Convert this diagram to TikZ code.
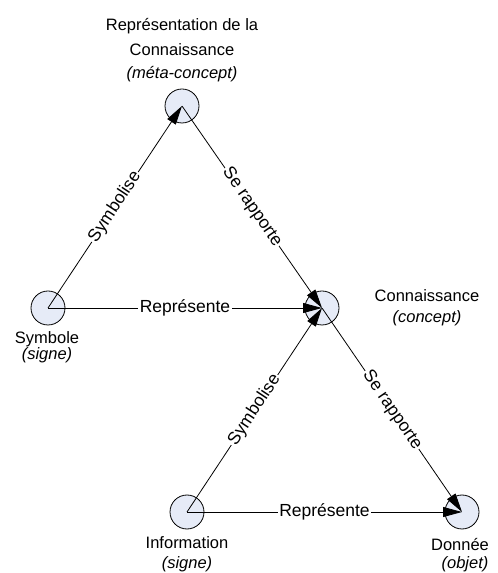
\documentclass[tikz,border=0pt]{standalone}
\usepackage{fontspec}
\setmainfont{Liberation Sans}
\usetikzlibrary{arrows.meta}
\definecolor{nodefill}{RGB}{230,235,247}
\begin{document}
\begin{tikzpicture}[x=1pt,y=1pt,
  every node/.style={font=\fontsize{16.5}{19.8}\selectfont},
  concept/.style={circle,draw=black,line width=0.8pt,fill=nodefill,minimum size=34pt,inner sep=0pt},
  caption/.style={anchor=base,inner sep=0pt},
  rel/.style={line width=0.8pt,-{Triangle[length=19pt,width=10pt]}},
  lbl/.style={fill=white,inner sep=1.5pt,font=\fontsize{17.5}{21}\selectfont}]
\useasboundingbox (0,0) rectangle (498,573);

% concept circles
\node[concept] (meta) at (182,467) {};
\node[concept] (conn) at (322,265) {};
\node[concept] (sym)  at (48,265)  {};
\node[concept] (info) at (187,61)  {};
\node[concept] (don)  at (462,61)  {};

% relations
\draw[rel] (sym.center)  -- node[lbl,sloped]{Symbolise}   (meta.center);
\draw[rel] (meta.center) -- node[lbl,sloped]{Se rapporte} (conn.center);
\draw[rel] (sym.center)  -- node[lbl]{Représente}         (conn.center);
\draw[rel] (info.center) -- node[lbl,sloped]{Symbolise}   (conn.center);
\draw[rel] (conn.center) -- node[lbl,sloped]{Se rapporte} (don.center);
\draw[rel] (info.center) -- node[lbl]{Représente}         (don.center);

% captions
\node[caption] (metaA) at (182,542) {Représentation de la};
\node[caption] (metaB) at (182,517) {Connaissance};
\node[caption] (metaC) at (182,494) {\itshape (méta-concept)};
\node[caption] (connA) at (427,271) {Connaissance};
\node[caption] (connB) at (427,250) {\itshape (concept)};
\node[caption] (symA)  at (47,229.5) {Symbole};
\node[caption] (symB)  at (47,213)   {\itshape (signe)};
\node[caption] (infoA) at (187,24) {Information};
\node[caption] (infoB) at (187,5)  {\itshape (signe)};
\node[caption] (donA)  at (460,22) {Donnée};
\node[caption] (donB)  at (465,5)  {\itshape (objet)};
\end{tikzpicture}
\end{document}
